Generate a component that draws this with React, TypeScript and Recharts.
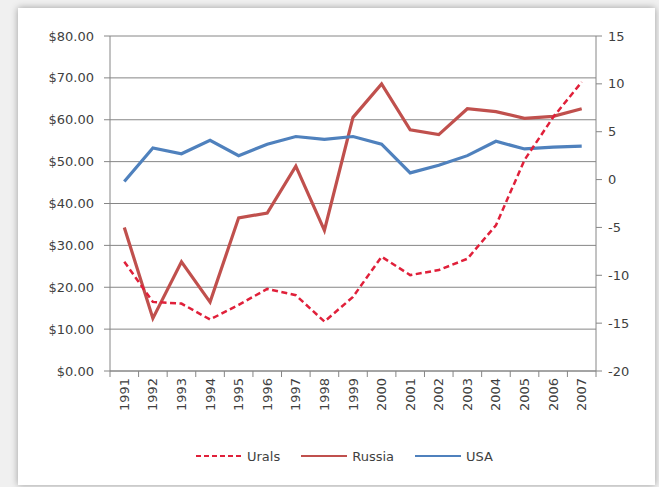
import React from 'react';
import { ComposedChart, Line, XAxis, YAxis, CartesianGrid, Legend } from 'recharts';

const years = ['1991', '1992', '1993', '1994', '1995', '1996', '1997', '1998', '1999', '2000', '2001', '2002', '2003', '2004', '2005', '2006', '2007'];
const uralsPrice = [26.1, 16.5, 16.1, 12.3, 15.8, 19.6, 18.1, 11.8, 17.7, 27.3, 22.9, 24.1, 26.8, 34.8, 50.4, 60.6, 69.0];
const russiaGrowth = [-5.0, -14.5, -8.6, -12.8, -4.0, -3.5, 1.4, -5.3, 6.5, 10.0, 5.2, 4.7, 7.4, 7.1, 6.4, 6.6, 7.4];
const usaGrowth = [-0.2, 3.3, 2.7, 4.1, 2.5, 3.7, 4.5, 4.2, 4.5, 3.7, 0.7, 1.5, 2.5, 4.0, 3.2, 3.4, 3.5];
const priceTicks = [0, 10, 20, 30, 40, 50, 60, 70, 80];
const growthTicks = [-20, -15, -10, -5, 0, 5, 10, 15];

const data = years.map((year, i) => ({
  year,
  urals: uralsPrice[i],
  russia: russiaGrowth[i],
  usa: usaGrowth[i],
}));

const W = 659;
const H = 487;
const PLOT_LEFT = 110;
const PLOT_RIGHT = 596;
const BAND = (PLOT_RIGHT - PLOT_LEFT) / years.length;
const AXIS = '#868686';
const TEXT = '#3f3f3f';
const FONT = '"DejaVu Sans", sans-serif';

const YearTick = (props: any) => {
  const { x, y, payload, index } = props;
  const axisY = y - 10;
  const half = BAND / 2;
  return (
    <g>
      <line x1={x - half} x2={x - half} y1={axisY} y2={axisY + 6} stroke={AXIS} />
      {index === years.length - 1 && (
        <line x1={x + half} x2={x + half} y1={axisY} y2={axisY + 6} stroke={AXIS} />
      )}
      <text
        x={x}
        y={axisY + 7}
        transform={`rotate(-90, ${x}, ${axisY + 7})`}
        textAnchor="end"
        dominantBaseline="central"
        fill={TEXT}
        fontSize={13}
        fontFamily={FONT}
      >
        {payload.value}
      </text>
    </g>
  );
};

const legendItems = [
  { name: 'Urals', color: '#e0203a', dash: '5 3' },
  { name: 'Russia', color: '#c0504d', dash: undefined },
  { name: 'USA', color: '#4f81bd', dash: undefined },
];

const LegendContent = () => (
  <div style={{ height: 42, display: 'flex', alignItems: 'center', paddingLeft: 196, fontFamily: FONT, fontSize: 13, color: TEXT }}>
    {legendItems.map((item) => (
      <div key={item.name} style={{ display: 'flex', alignItems: 'center', marginRight: 21 }}>
        <svg width={46} height={6}>
          <line x1={0} x2={46} y1={3} y2={3} stroke={item.color} strokeWidth={2} strokeDasharray={item.dash} />
        </svg>
        <span style={{ marginLeft: 5 }}>{item.name}</span>
      </div>
    ))}
  </div>
);

export default function App() {
  return (
    <div style={{ position: 'absolute', left: 0, top: 0, width: W, height: H, background: '#f0f0f0', overflow: 'hidden' }}>
      <div style={{ position: 'absolute', left: 18, top: 8, width: 637, height: 477, background: '#fff', boxShadow: '0 0 7px rgba(0,0,0,0.35)' }} />
      <div style={{ position: 'absolute', left: 0, top: 0 }}>
        <ComposedChart width={W} height={H} data={data} margin={{ top: 36, right: 10, bottom: 10, left: 10 }}>
          <CartesianGrid yAxisId="left" vertical={false} stroke={AXIS} />
          <XAxis
            dataKey="year"
            height={64}
            padding={{ left: BAND / 2, right: BAND / 2 }}
            axisLine={{ stroke: AXIS }}
            tickLine={false}
            tickSize={6}
            tickMargin={4}
            interval={0}
            tick={<YearTick />}
          />
          <YAxis
            yAxisId="left"
            width={100}
            domain={[0, 80]}
            ticks={priceTicks}
            tickFormatter={(v: number) => `$${v.toFixed(2)}`}
            axisLine={{ stroke: AXIS }}
            tickLine={{ stroke: AXIS }}
            tickSize={6}
            tickMargin={10}
            tick={{ fill: TEXT, fontSize: 13, fontFamily: FONT }}
          />
          <YAxis
            yAxisId="right"
            orientation="right"
            width={53}
            domain={[-20, 15]}
            ticks={growthTicks}
            axisLine={{ stroke: AXIS }}
            tickLine={{ stroke: AXIS }}
            tickSize={6}
            tickMargin={6}
            tick={{ fill: TEXT, fontSize: 13, fontFamily: FONT }}
          />
          <Legend verticalAlign="bottom" content={<LegendContent />} wrapperStyle={{ left: 0, width: W }} />
          <Line yAxisId="right" dataKey="russia" stroke="#c0504d" strokeWidth={3.2} dot={false} isAnimationActive={false} />
          <Line yAxisId="right" dataKey="usa" stroke="#4f81bd" strokeWidth={3.2} dot={false} isAnimationActive={false} />
          <Line yAxisId="left" dataKey="urals" stroke="#e0203a" strokeWidth={2.5} strokeDasharray="6 3.5" dot={false} isAnimationActive={false} />
        </ComposedChart>
      </div>
    </div>
  );
}
